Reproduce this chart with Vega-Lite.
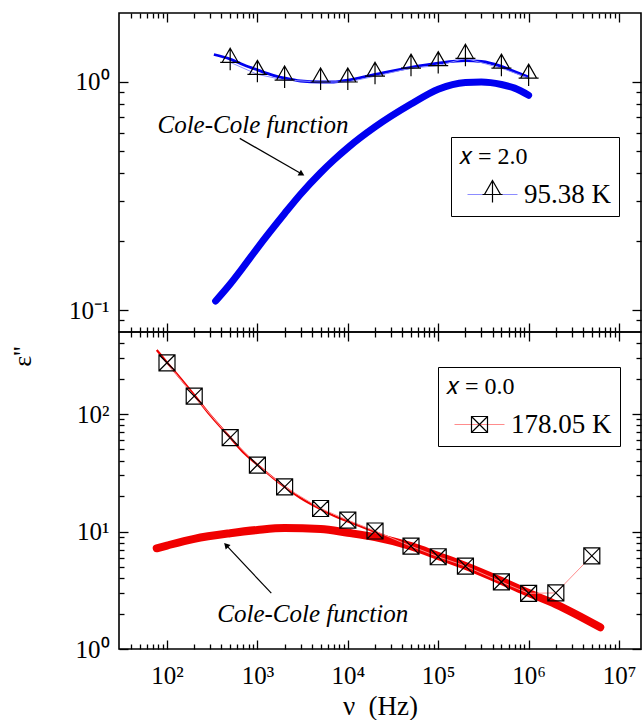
{
  "$schema": "https://vega.github.io/schema/vega-lite/v6.json",
  "padding": {"left": 8, "top": 11, "right": 0, "bottom": 0},
  "background": "white",
  "config": {
    "view": {"stroke": "black", "strokeWidth": 1.6},
    "font": "'Liberation Serif', 'Times New Roman', serif",
    "axis": {
      "grid": false, "domain": false, "tickColor": "black", "tickWidth": 1.3,
      "labelFont": "'Liberation Serif', 'Times New Roman', serif", "labelFontSize": 25, "labelColor": "black",
      "titleFont": "'Liberation Serif', 'Times New Roman', serif", "titleFontWeight": "normal", "titleColor": "black",
      "labelFlush": false, "labelOverlap": false
    }
  },
  "datasets": {
    "top_pts": [
      {"f": 500, "e": 1.22, "s": "95.38 K", "m": "95.38 K"},
      {"f": 1000, "e": 1.08, "s": "95.38 K", "m": "95.38 K"},
      {"f": 2000, "e": 1.02, "s": "95.38 K", "m": "95.38 K"},
      {"f": 5000, "e": 1.0, "s": "95.38 K", "m": "95.38 K"},
      {"f": 10000, "e": 1.0, "s": "95.38 K", "m": "95.38 K"},
      {"f": 20000, "e": 1.06, "s": "95.38 K", "m": "95.38 K"},
      {"f": 50000, "e": 1.15, "s": "95.38 K", "m": "95.38 K"},
      {"f": 100000, "e": 1.18, "s": "95.38 K", "m": "95.38 K"},
      {"f": 200000, "e": 1.27, "s": "95.38 K", "m": "95.38 K"},
      {"f": 500000, "e": 1.15, "s": "95.38 K", "m": "95.38 K"},
      {"f": 1000000, "e": 1.04, "s": "95.38 K", "m": "95.38 K"}
    ],
    "top_fit": [
      {"f": 330, "e": 1.32}, {"f": 500, "e": 1.26}, {"f": 700, "e": 1.19},
      {"f": 1000, "e": 1.13}, {"f": 1500, "e": 1.07}, {"f": 2000, "e": 1.04},
      {"f": 3000, "e": 1.01}, {"f": 5000, "e": 1.0}, {"f": 7000, "e": 1.0},
      {"f": 10000, "e": 1.02}, {"f": 20000, "e": 1.08}, {"f": 50000, "e": 1.16},
      {"f": 100000, "e": 1.21}, {"f": 200000, "e": 1.24}, {"f": 300000, "e": 1.23},
      {"f": 500000, "e": 1.17}, {"f": 700000, "e": 1.11}, {"f": 1000000, "e": 1.05}
    ],
    "top_cc": [
      {"f": 345, "e": 0.1095}, {"f": 500, "e": 0.130}, {"f": 700, "e": 0.1545},
      {"f": 1000, "e": 0.187}, {"f": 2000, "e": 0.265}, {"f": 3000, "e": 0.322},
      {"f": 5000, "e": 0.40}, {"f": 7000, "e": 0.455}, {"f": 10000, "e": 0.515},
      {"f": 20000, "e": 0.635}, {"f": 50000, "e": 0.80}, {"f": 100000, "e": 0.93},
      {"f": 200000, "e": 0.995}, {"f": 300000, "e": 1.0}, {"f": 500000, "e": 0.975},
      {"f": 700000, "e": 0.94}, {"f": 1000000, "e": 0.875}
    ],
    "bot_pts": [
      {"f": 100, "e": 273, "s": "178.05 K", "m": "178.05 K"},
      {"f": 200, "e": 142, "s": "178.05 K", "m": "178.05 K"},
      {"f": 500, "e": 63, "s": "178.05 K", "m": "178.05 K"},
      {"f": 1000, "e": 36.8, "s": "178.05 K", "m": "178.05 K"},
      {"f": 2000, "e": 24, "s": "178.05 K", "m": "178.05 K"},
      {"f": 5000, "e": 15.7, "s": "178.05 K", "m": "178.05 K"},
      {"f": 10000, "e": 12.5, "s": "178.05 K", "m": "178.05 K"},
      {"f": 20000, "e": 10.1, "s": "178.05 K", "m": "178.05 K"},
      {"f": 50000, "e": 7.5, "s": "178.05 K", "m": "178.05 K"},
      {"f": 100000, "e": 6.1, "s": "178.05 K", "m": "178.05 K"},
      {"f": 200000, "e": 5.08, "s": "178.05 K", "m": "178.05 K"},
      {"f": 500000, "e": 3.72, "s": "178.05 K", "m": "178.05 K"},
      {"f": 1000000, "e": 2.98, "s": "178.05 K", "m": "178.05 K"},
      {"f": 2000000, "e": 3.0, "s": "178.05 K", "m": "178.05 K"},
      {"f": 5000000, "e": 6.2, "s": "178.05 K", "m": "178.05 K"}
    ],
    "bot_fit": [
      {"f": 77, "e": 351}, {"f": 100, "e": 275}, {"f": 150, "e": 190},
      {"f": 200, "e": 145}, {"f": 300, "e": 98}, {"f": 500, "e": 63},
      {"f": 700, "e": 47}, {"f": 1000, "e": 37}, {"f": 1500, "e": 28.5},
      {"f": 2000, "e": 24}, {"f": 3000, "e": 19.3}, {"f": 5000, "e": 15.5},
      {"f": 7000, "e": 13.6}, {"f": 10000, "e": 12.2}, {"f": 20000, "e": 9.9},
      {"f": 50000, "e": 7.5}, {"f": 100000, "e": 6.1}, {"f": 200000, "e": 4.95},
      {"f": 500000, "e": 3.7}, {"f": 1000000, "e": 2.95}
    ],
    "bot_cc": [
      {"f": 77, "e": 7.2}, {"f": 100, "e": 7.6}, {"f": 200, "e": 8.67},
      {"f": 500, "e": 9.68}, {"f": 1000, "e": 10.3}, {"f": 2000, "e": 10.7},
      {"f": 5000, "e": 10.5}, {"f": 10000, "e": 9.75}, {"f": 20000, "e": 8.95},
      {"f": 50000, "e": 7.5}, {"f": 100000, "e": 6.2}, {"f": 200000, "e": 5.1},
      {"f": 500000, "e": 3.8}, {"f": 1000000, "e": 3.0}, {"f": 2000000, "e": 2.4},
      {"f": 6200000, "e": 1.53}
    ]
  },
  "spacing": 0,
  "bounds": "flush",
  "resolve": {
    "scale": {"stroke": "independent", "shape": "independent"},
    "legend": {"stroke": "independent", "shape": "independent"}
  },
  "vconcat": [
    {
      "width": 522,
      "height": 319,
      "resolve": {"axis": {"x": "independent", "y": "independent"}},
      "layer": [
        {
          "data": {"name": "top_cc"},
          "mark": {"type": "line", "stroke": "#0000f0", "strokeWidth": 7, "interpolate": "monotone", "strokeCap": "round"},
          "encoding": {
            "x": {"field": "f", "type": "quantitative", "scale": {"type": "log", "domain": [29.45, 17500000], "nice": false},
                  "axis": {"orient": "bottom", "values": [100, 1000, 10000, 100000, 1000000, 10000000], "tickSize": -9, "labels": false, "title": null}},
            "y": {"field": "e", "type": "quantitative", "scale": {"type": "log", "domain": [0.0801, 2.007], "nice": false},
                  "axis": {"orient": "left", "values": [0.1, 1], "tickSize": -9, "labelPadding": 19, "title": null,
                           "labelExpr": "datum.value == 0.1 ? '10⁻¹' : datum.value == 1 ? '10⁰' : datum.value == 10 ? '10¹' : '10²'"}}
          }
        },
        {
          "data": {"name": "top_fit"},
          "mark": {"type": "line", "stroke": "#0000f0", "strokeWidth": 2.8, "interpolate": "monotone"},
          "encoding": {
            "x": {"field": "f", "type": "quantitative", "scale": {"type": "log", "domain": [29.45, 17500000], "nice": false},
                  "axis": {"orient": "bottom", "values": [40, 50, 60, 70, 80, 90, 200, 300, 400, 500, 600, 700, 800, 900, 2000, 3000, 4000, 5000, 6000, 7000, 8000, 9000, 20000, 30000, 40000, 50000, 60000, 70000, 80000, 90000, 200000, 300000, 400000, 500000, 600000, 700000, 800000, 900000, 2000000, 3000000, 4000000, 5000000, 6000000, 7000000, 8000000, 9000000], "tickSize": -5, "labels": false, "title": null}},
            "y": {"field": "e", "type": "quantitative", "scale": {"type": "log", "domain": [0.0801, 2.007], "nice": false},
                  "axis": {"orient": "left", "values": [0.09, 0.2, 0.3, 0.4, 0.5, 0.6, 0.7, 0.8, 0.9], "tickSize": -5, "labels": false, "title": null}}
          }
        },
        {
          "data": {"name": "top_pts"},
          "mark": {"type": "line", "strokeWidth": 1},
          "encoding": {
            "x": {"field": "f", "type": "quantitative", "scale": {"type": "log", "domain": [29.45, 17500000], "nice": false},
                  "axis": {"orient": "top", "values": [100, 1000, 10000, 100000, 1000000, 10000000], "tickSize": -9, "labels": false, "title": null}},
            "y": {"field": "e", "type": "quantitative", "scale": {"type": "log", "domain": [0.0801, 2.007], "nice": false},
                  "axis": {"orient": "right", "values": [0.1, 1], "tickSize": -9, "labels": false, "title": null}},
            "stroke": {"field": "s", "type": "nominal", "scale": {"range": ["#8c8cff"]},
                       "legend": {"orient": "none", "legendX": 332, "legendY": 124, "title": "𝑥 = 2.0",
                                  "titleFont": "'Liberation Serif', 'Times New Roman', serif", "titleFontSize": 24, "titleFontWeight": "normal", "titleColor": "black", "titlePadding": 12,
                                  "labelFont": "'Liberation Serif', 'Times New Roman', serif", "labelFontSize": 27, "labelColor": "black", "labelOffset": 18,
                                  "symbolType": "M-5,0H5", "symbolSize": 100, "symbolOffset": 20, "symbolStrokeWidth": 1,
                                  "padding": 8, "strokeColor": "black"}}
          }
        },
        {
          "data": {"name": "top_pts"},
          "mark": {"type": "point", "filled": false, "stroke": "black", "strokeWidth": 1.2, "size": 100, "opacity": 1},
          "encoding": {
            "x": {"field": "f", "type": "quantitative", "scale": {"type": "log", "domain": [29.45, 17500000], "nice": false},
                  "axis": {"orient": "top", "values": [40, 50, 60, 70, 80, 90, 200, 300, 400, 500, 600, 700, 800, 900, 2000, 3000, 4000, 5000, 6000, 7000, 8000, 9000, 20000, 30000, 40000, 50000, 60000, 70000, 80000, 90000, 200000, 300000, 400000, 500000, 600000, 700000, 800000, 900000, 2000000, 3000000, 4000000, 5000000, 6000000, 7000000, 8000000, 9000000], "tickSize": -5, "labels": false, "title": null}},
            "y": {"field": "e", "type": "quantitative", "scale": {"type": "log", "domain": [0.0801, 2.007], "nice": false},
                  "axis": {"orient": "right", "values": [0.09, 0.2, 0.3, 0.4, 0.5, 0.6, 0.7, 0.8, 0.9], "tickSize": -5, "labels": false, "title": null}},
            "shape": {"field": "m", "type": "nominal", "scale": {"range": ["M0,-2.8L1.6,0L-1.6,0Z M-2,0H2 M0,-2.8V1.6"]},
                      "legend": {"orient": "none", "legendX": 332, "legendY": 124, "title": "𝑥 = 2.0",
                                 "titleFont": "'Liberation Serif', 'Times New Roman', serif", "titleFontSize": 24, "titleFontWeight": "normal", "titleOpacity": 0, "titlePadding": 12,
                                 "labelFont": "'Liberation Serif', 'Times New Roman', serif", "labelFontSize": 27, "labelOpacity": 0, "labelOffset": 18,
                                 "symbolSize": 100, "symbolOffset": 20, "symbolStrokeColor": "black", "symbolFillColor": "transparent", "symbolStrokeWidth": 1.2,
                                 "padding": 8}}
          }
        },
        {
          "data": {"values": [{"note": "Cole-Cole function"}]},
          "mark": {"type": "text", "font": "'Liberation Serif', 'Times New Roman', serif", "fontStyle": "italic", "fontSize": 25, "align": "center", "baseline": "alphabetic", "color": "black"},
          "encoding": {
            "x": {"datum": 893, "type": "quantitative", "scale": {"type": "log", "domain": [29.45, 17500000], "nice": false}, "axis": null},
            "y": {"datum": 0.5975, "type": "quantitative", "scale": {"type": "log", "domain": [0.0801, 2.007], "nice": false}, "axis": null},
            "text": {"field": "note"}
          }
        },
        {
          "data": {"values": [{}]},
          "mark": {"type": "rule", "color": "black", "strokeWidth": 1.2},
          "encoding": {
            "x": {"datum": 638, "type": "quantitative", "scale": {"type": "log", "domain": [29.45, 17500000], "nice": false}, "axis": null},
            "y": {"datum": 0.566, "type": "quantitative", "scale": {"type": "log", "domain": [0.0801, 2.007], "nice": false}, "axis": null},
            "x2": {"datum": 3097},
            "y2": {"datum": 0.3948}
          }
        },
        {
          "data": {"values": [{}]},
          "mark": {"type": "point", "shape": "triangle-right", "angle": 30, "filled": true, "color": "black", "size": 45, "opacity": 1},
          "encoding": {
            "x": {"datum": 3097, "type": "quantitative", "scale": {"type": "log", "domain": [29.45, 17500000], "nice": false}, "axis": null},
            "y": {"datum": 0.3948, "type": "quantitative", "scale": {"type": "log", "domain": [0.0801, 2.007], "nice": false}, "axis": null}
          }
        }
      ]
    },
    {
      "width": 522,
      "height": 317,
      "resolve": {"axis": {"x": "independent", "y": "independent"}},
      "layer": [
        {
          "data": {"name": "bot_cc"},
          "mark": {"type": "line", "stroke": "#f00000", "strokeWidth": 8, "interpolate": "monotone", "strokeCap": "round"},
          "encoding": {
            "x": {"field": "f", "type": "quantitative", "scale": {"type": "log", "domain": [29.45, 17500000], "nice": false},
                  "axis": {"orient": "bottom", "values": [100, 1000, 10000, 100000, 1000000, 10000000], "tickSize": -9, "labelPadding": 23,
                           "labelExpr": "datum.value == 100 ? '10²' : datum.value == 1000 ? '10³' : datum.value == 10000 ? '10⁴' : datum.value == 100000 ? '10⁵' : datum.value == 1000000 ? '10⁶' : '10⁷'",
                           "title": "ν\u00a0\u00a0(Hz)", "titleFontSize": 27, "titleY": 65, "titleBaseline": "alphabetic"}},
            "y": {"field": "e", "type": "quantitative", "scale": {"type": "log", "domain": [1, 499], "nice": false},
                  "axis": {"orient": "left", "values": [1, 10, 100], "tickSize": -9, "labelPadding": 19,
                           "labelExpr": "datum.value == 1 ? '10⁰' : datum.value == 10 ? '10¹' : '10²'",
                           "title": "ε''", "titleFontSize": 26, "titleAngle": -90, "titleX": -97, "titleY": 24, "titleAlign": "center", "titleBaseline": "middle"}}
          }
        },
        {
          "data": {"name": "bot_fit"},
          "mark": {"type": "line", "stroke": "#f00000", "strokeWidth": 2.2, "interpolate": "monotone"},
          "encoding": {
            "x": {"field": "f", "type": "quantitative", "scale": {"type": "log", "domain": [29.45, 17500000], "nice": false},
                  "axis": {"orient": "bottom", "values": [40, 50, 60, 70, 80, 90, 200, 300, 400, 500, 600, 700, 800, 900, 2000, 3000, 4000, 5000, 6000, 7000, 8000, 9000, 20000, 30000, 40000, 50000, 60000, 70000, 80000, 90000, 200000, 300000, 400000, 500000, 600000, 700000, 800000, 900000, 2000000, 3000000, 4000000, 5000000, 6000000, 7000000, 8000000, 9000000], "tickSize": -5, "labels": false, "title": null}},
            "y": {"field": "e", "type": "quantitative", "scale": {"type": "log", "domain": [1, 499], "nice": false},
                  "axis": {"orient": "left", "values": [2, 3, 4, 5, 6, 7, 8, 9, 20, 30, 40, 50, 60, 70, 80, 90, 200, 300, 400], "tickSize": -5, "labels": false, "title": null}}
          }
        },
        {
          "data": {"name": "bot_pts"},
          "mark": {"type": "line", "strokeWidth": 1},
          "encoding": {
            "x": {"field": "f", "type": "quantitative", "scale": {"type": "log", "domain": [29.45, 17500000], "nice": false},
                  "axis": {"orient": "top", "values": [100, 1000, 10000, 100000, 1000000, 10000000], "tickSize": -9, "labels": false, "title": null}},
            "y": {"field": "e", "type": "quantitative", "scale": {"type": "log", "domain": [1, 499], "nice": false},
                  "axis": {"orient": "right", "values": [1, 10, 100], "tickSize": -9, "labels": false, "title": null}},
            "stroke": {"field": "s", "type": "nominal", "scale": {"range": ["#ff8c8c"]},
                       "legend": {"orient": "none", "legendX": 319, "legendY": 35, "title": "𝑥 = 0.0",
                                  "titleFont": "'Liberation Serif', 'Times New Roman', serif", "titleFontSize": 24, "titleFontWeight": "normal", "titleColor": "black", "titlePadding": 12,
                                  "labelFont": "'Liberation Serif', 'Times New Roman', serif", "labelFontSize": 27, "labelColor": "black", "labelOffset": 18,
                                  "symbolType": "M-5,0H5", "symbolSize": 100, "symbolOffset": 20, "symbolStrokeWidth": 1,
                                  "padding": 8, "strokeColor": "black"}}
          }
        },
        {
          "data": {"name": "bot_pts"},
          "mark": {"type": "point", "filled": false, "stroke": "black", "strokeWidth": 1.2, "size": 100, "opacity": 1},
          "encoding": {
            "x": {"field": "f", "type": "quantitative", "scale": {"type": "log", "domain": [29.45, 17500000], "nice": false},
                  "axis": {"orient": "top", "values": [40, 50, 60, 70, 80, 90, 200, 300, 400, 500, 600, 700, 800, 900, 2000, 3000, 4000, 5000, 6000, 7000, 8000, 9000, 20000, 30000, 40000, 50000, 60000, 70000, 80000, 90000, 200000, 300000, 400000, 500000, 600000, 700000, 800000, 900000, 2000000, 3000000, 4000000, 5000000, 6000000, 7000000, 8000000, 9000000], "tickSize": -5, "labels": false, "title": null}},
            "y": {"field": "e", "type": "quantitative", "scale": {"type": "log", "domain": [1, 499], "nice": false},
                  "axis": {"orient": "right", "values": [2, 3, 4, 5, 6, 7, 8, 9, 20, 30, 40, 50, 60, 70, 80, 90, 200, 300, 400], "tickSize": -5, "labels": false, "title": null}},
            "shape": {"field": "m", "type": "nominal", "scale": {"range": ["M-1.6,-1.6H1.6V1.6H-1.6Z M-1.6,-1.6L1.6,1.6 M1.6,-1.6L-1.6,1.6"]},
                      "legend": {"orient": "none", "legendX": 319, "legendY": 35, "title": "𝑥 = 0.0",
                                 "titleFont": "'Liberation Serif', 'Times New Roman', serif", "titleFontSize": 24, "titleFontWeight": "normal", "titleOpacity": 0, "titlePadding": 12,
                                 "labelFont": "'Liberation Serif', 'Times New Roman', serif", "labelFontSize": 27, "labelOpacity": 0, "labelOffset": 18,
                                 "symbolSize": 100, "symbolOffset": 20, "symbolStrokeColor": "black", "symbolFillColor": "transparent", "symbolStrokeWidth": 1.2,
                                 "padding": 8}}
          }
        },
        {
          "data": {"values": [{"note": "Cole-Cole function"}]},
          "mark": {"type": "text", "font": "'Liberation Serif', 'Times New Roman', serif", "fontStyle": "italic", "fontSize": 25, "align": "center", "baseline": "alphabetic", "color": "black"},
          "encoding": {
            "x": {"datum": 4093, "type": "quantitative", "scale": {"type": "log", "domain": [29.45, 17500000], "nice": false}, "axis": null},
            "y": {"datum": 1.714, "type": "quantitative", "scale": {"type": "log", "domain": [1, 499], "nice": false}, "axis": null},
            "text": {"field": "note"}
          }
        },
        {
          "data": {"values": [{}]},
          "mark": {"type": "rule", "color": "black", "strokeWidth": 1.2},
          "encoding": {
            "x": {"datum": 1425, "type": "quantitative", "scale": {"type": "log", "domain": [29.45, 17500000], "nice": false}, "axis": null},
            "y": {"datum": 2.986, "type": "quantitative", "scale": {"type": "log", "domain": [1, 499], "nice": false}, "axis": null},
            "x2": {"datum": 451},
            "y2": {"datum": 7.66}
          }
        },
        {
          "data": {"values": [{}]},
          "mark": {"type": "point", "shape": "triangle-right", "angle": 226.8, "filled": true, "color": "black", "size": 45, "opacity": 1},
          "encoding": {
            "x": {"datum": 451, "type": "quantitative", "scale": {"type": "log", "domain": [29.45, 17500000], "nice": false}, "axis": null},
            "y": {"datum": 7.66, "type": "quantitative", "scale": {"type": "log", "domain": [1, 499], "nice": false}, "axis": null}
          }
        }
      ]
    }
  ]
}
